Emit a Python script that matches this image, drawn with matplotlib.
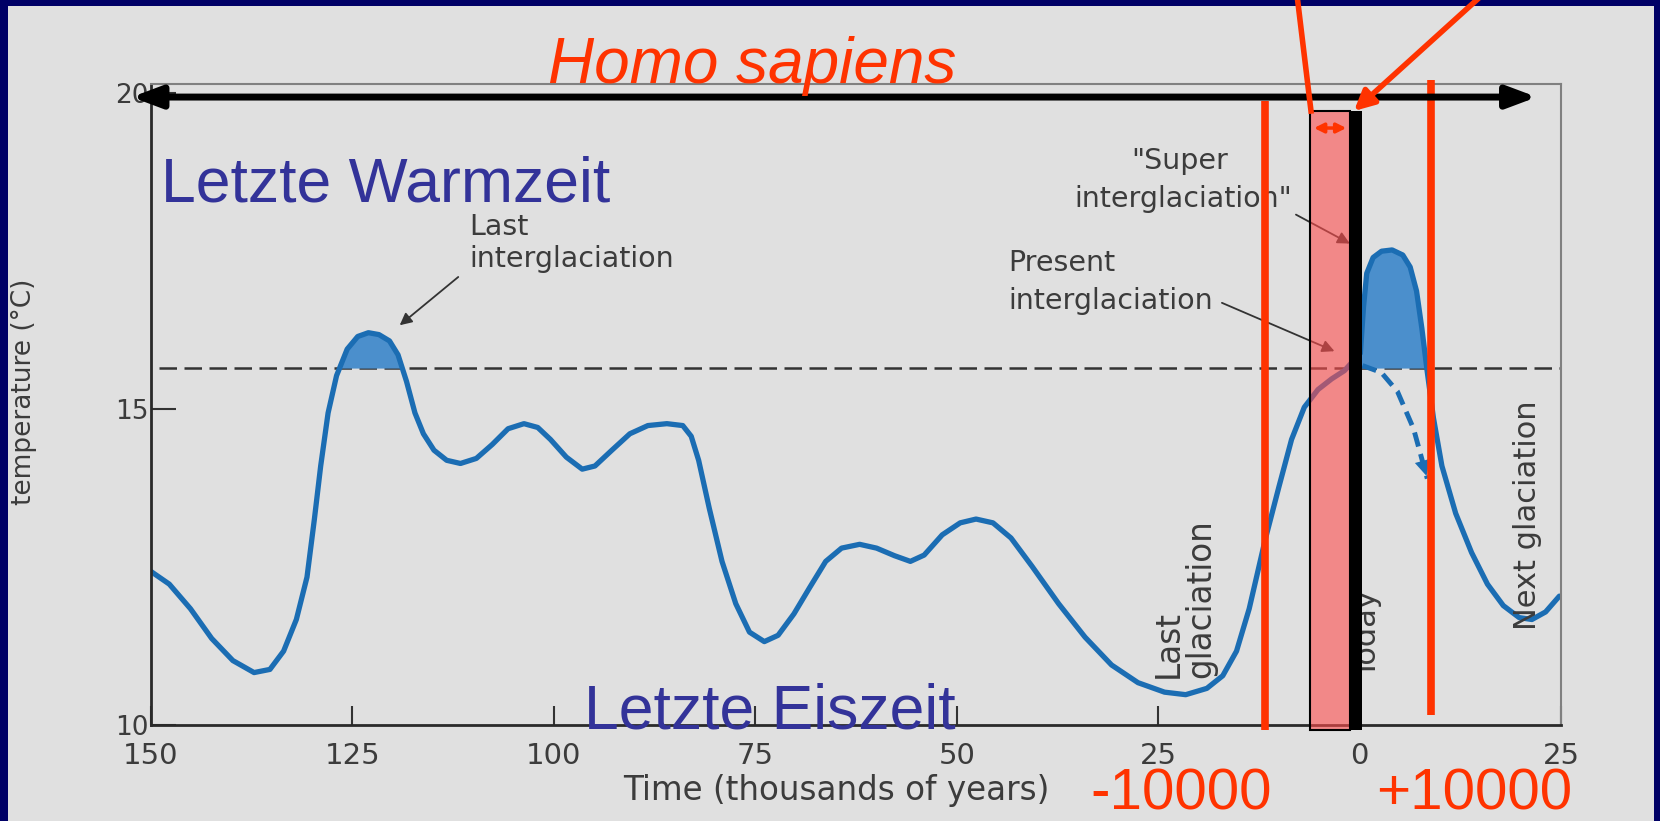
import numpy as np
import matplotlib
matplotlib.use('Agg')
import matplotlib.pyplot as plt
from matplotlib.patches import Rectangle, FancyArrowPatch
from matplotlib.lines import Line2D
from matplotlib.colors import LinearSegmentedColormap

# temperature curve (thousands of years, negative = past), deg C
past_years = [-150.0, -147.73, -145.10, -142.47, -139.84, -137.21, -135.24, -133.54, -131.96, -130.64,
              -129.72, -128.94, -128.02, -126.97, -125.65, -124.34, -123.02, -121.71, -120.40, -119.34,
              -118.29, -117.24, -116.19, -114.88, -113.30, -111.59, -109.62, -107.65, -105.68, -103.71,
              -102.00, -100.42, -98.45, -96.48, -94.90, -92.80, -90.57, -88.33, -85.97, -84.00,
              -82.95, -82.03, -80.71, -79.13, -77.42, -75.72, -73.88, -72.17, -70.20, -68.23,
              -66.26, -64.29, -62.05, -59.95, -57.72, -55.75, -54.04, -51.80, -49.57, -47.60,
              -45.50, -43.26, -40.64, -37.35, -34.07, -30.78, -27.50, -24.21, -21.58, -18.95,
              -16.98, -15.27, -13.70, -11.72, -10.01, -8.44, -6.86, -5.16, -3.45, -1.87, 0.10]
past_temps = [12.43, 12.23, 11.84, 11.37, 11.02, 10.83, 10.88, 11.17, 11.67, 12.34,
              13.26, 14.10, 14.94, 15.53, 15.95, 16.15, 16.21, 16.18, 16.08, 15.86,
              15.44, 14.94, 14.61, 14.35, 14.19, 14.14, 14.22, 14.44, 14.69, 14.77,
              14.71, 14.52, 14.24, 14.05, 14.10, 14.35, 14.61, 14.74, 14.77, 14.74,
              14.57, 14.19, 13.43, 12.59, 11.92, 11.47, 11.32, 11.42, 11.76, 12.18,
              12.59, 12.80, 12.86, 12.80, 12.68, 12.59, 12.69, 13.01, 13.20, 13.26,
              13.20, 12.96, 12.51, 11.92, 11.39, 10.95, 10.67, 10.52, 10.48, 10.58,
              10.78, 11.17, 11.84, 12.93, 13.77, 14.52, 15.03, 15.31, 15.48, 15.61, 15.89]

# "super interglaciation" scenario
future_years = [0.10, 0.49, 0.89, 1.68, 2.73, 4.04, 5.36, 6.28, 7.07, 7.73, 8.38,
                9.17, 10.22, 11.93, 13.90, 15.87, 17.84, 19.81, 21.39, 23.09, 24.80]
future_temps = [15.89, 16.62, 17.15, 17.40, 17.50, 17.52, 17.44, 17.25, 16.87, 16.28, 15.61,
                14.86, 14.10, 13.35, 12.73, 12.23, 11.89, 11.70, 11.67, 11.79, 12.04]

# natural trend (dashed)
alt_years = [0.36, 2.7, 4.7, 6.7, 8.4]
alt_temps = [15.69, 15.58, 15.28, 14.69, 13.90]

mean_temp = 15.65
xticks = [-150, -125, -100, -75, -50, -25, 0, 25]
xticklabels = ['150', '125', '100', '75', '50', '25', '0', '25']
yticks = [10, 15, 20]

minus_10k = -11.7
plus_10k = 8.85
sapiens_box = (-6.2, -1.2)
today_bar = (-1.2, 0.3)

blue = '#1b6db3'
fill_blue = '#4b8fcc'
red = '#ff3300'
grey_txt = '#3c3c3c'
navy_txt = '#333399'
lab_size = 20.5

plt.rcParams['font.family'] = 'DejaVu Sans'

fig = plt.figure(figsize=(16.6, 8.21), dpi=100)
fig.patch.set_facecolor('#000066')


def px(x, y):
    return x / 1660, 1 - y / 821


# scanned page
bg = fig.add_axes([8 / 1660, 0, (1654 - 8) / 1660, (821 - 6) / 821])
bg.set_axis_off()
bg.add_patch(Rectangle((0, 0), 1, 1, color='#e0e0e0'))
edge = LinearSegmentedColormap.from_list('edge', ['#c4c1b6', '#d8d7d2', '#e0e0e0'])
bg.imshow(np.linspace(0, 1, 64)[None, :], extent=(0, 0.025, 0, 1), cmap=edge, aspect='auto')
bg.set_xlim(0, 1)
bg.set_ylim(0, 1)

ax = fig.add_axes([151 / 1660, (821 - 725) / 821, 1410 / 1660, 641.2 / 821])
ax.set_facecolor('none')
ax.set_xlim(-150, 25)
ax.set_ylim(10, 20.15)

# dashed mean line and shaded warm periods
ax.plot([-149, 25], [mean_temp, mean_temp], color='#333333', lw=1.8, ls=(0, (7, 3)), zorder=1)
py = np.array(past_years)
pt = np.array(past_temps)
ax.fill_between(py, pt, mean_temp, where=(pt > mean_temp) & (py < -100), interpolate=True,
                color=fill_blue, lw=0, zorder=1.5)
fy = np.array(future_years)
ft = np.array(future_temps)
ax.fill_between(fy, ft, mean_temp, where=ft > mean_temp, interpolate=True,
                color=fill_blue, lw=0, zorder=1.5)

ax.plot(past_years, past_temps, color=blue, lw=3.8, solid_joinstyle='round', solid_capstyle='round', zorder=2)
ax.plot(future_years, future_temps, color=blue, lw=3.8, solid_joinstyle='round', solid_capstyle='round', zorder=2)
ax.plot(alt_years, alt_temps, color=blue, lw=3.5, ls=(0, (3, 1.6)), zorder=2)
ax.annotate('', xy=(alt_years[-1], alt_temps[-1]), xytext=(alt_years[-2], alt_temps[-2]),
            arrowprops=dict(arrowstyle='-|>', color=blue, lw=0, mutation_scale=28), zorder=2)

# axes styling
for s in ['left', 'bottom']:
    ax.spines[s].set_color('#2a2a2a')
    ax.spines[s].set_linewidth(2)
for s in ['top', 'right']:
    ax.spines[s].set_color('#808080')
    ax.spines[s].set_linewidth(1.5)
ax.set_xticks(xticks)
ax.set_xticklabels(xticklabels)
ax.set_yticks(yticks)
ax.tick_params(axis='x', direction='in', length=14, width=1.5, color='#333333',
               labelsize=21, labelcolor=grey_txt, pad=12)
ax.tick_params(axis='y', direction='in', length=18, width=1.5, color='#333333',
               labelsize=19, labelcolor=grey_txt, pad=2)

# original figure labels
ax.text(-110.5, 17.76, 'Last', fontsize=lab_size, color=grey_txt)
ax.text(-110.5, 17.25, 'interglaciation', fontsize=lab_size, color=grey_txt)
ax.annotate('', xy=(-119.4, 16.3), xytext=(-111.6, 17.12),
            arrowprops=dict(arrowstyle='-|>', color='#333333', lw=1.3, mutation_scale=18), zorder=2.5)
ax.text(-28.3, 18.8, '"Super', fontsize=lab_size, color=grey_txt)
ax.text(-35.4, 18.2, 'interglaciation"', fontsize=lab_size, color=grey_txt)
ax.annotate('', xy=(-0.9, 17.6), xytext=(-8.2, 18.1),
            arrowprops=dict(arrowstyle='-|>', color='#333333', lw=1.3, mutation_scale=18), zorder=2.5)
ax.text(-43.6, 17.19, 'Present', fontsize=lab_size, color=grey_txt)
ax.text(-43.6, 16.59, 'interglaciation', fontsize=lab_size, color=grey_txt)
ax.annotate('', xy=(-2.8, 15.9), xytext=(-17.4, 16.7),
            arrowprops=dict(arrowstyle='-|>', color='#333333', lw=1.3, mutation_scale=18), zorder=2.5)
ax.text(-21.7, 10.75, 'Last\nglaciation', fontsize=23.5, color=grey_txt, rotation=90,
        ha='center', va='bottom', multialignment='left', linespacing=1.0)
ax.text(1.0, 10.75, 'Today', fontsize=22, color=grey_txt, rotation=90, ha='center', va='bottom')
ax.text(20.8, 11.5, 'Next glaciation', fontsize=22, color=grey_txt, rotation=90, ha='center', va='bottom')

# slide overlay: Homo sapiens span, markers
ax.add_patch(Rectangle((sapiens_box[0], 9.92), sapiens_box[1] - sapiens_box[0], 19.72 - 9.92,
                       facecolor=(1, 0.3, 0.3, 0.6), edgecolor='black', lw=1.5, zorder=3, clip_on=False))
ax.add_patch(Rectangle((today_bar[0], 9.92), today_bar[1] - today_bar[0], 19.72 - 9.92,
                       facecolor='black', edgecolor='black', lw=0, zorder=4, clip_on=False))
ax.plot([minus_10k, minus_10k], [9.92, 19.88], color=red, lw=5.5, zorder=5, clip_on=False, solid_capstyle='butt')
ax.plot([plus_10k, plus_10k], [10.16, 20.21], color=red, lw=5.5, zorder=5, clip_on=False, solid_capstyle='butt')
ax.annotate('', xy=(-1.3, 19.45), xytext=(-6.0, 19.45),
            arrowprops=dict(arrowstyle='<|-|>', color=red, lw=2.5, mutation_scale=14), zorder=5)
ax.annotate('', xy=(22.0, 19.94), xytext=(-152.4, 19.94), annotation_clip=False,
            arrowprops=dict(arrowstyle='<|-|>, head_length=0.8, head_width=0.3', color='black',
                            lw=5, mutation_scale=22, shrinkA=0, shrinkB=0), zorder=6)

fig.add_artist(Line2D([px(1297, 0)[0], px(1311, 111)[0]], [px(1297, -5)[1], px(1311, 111)[1]],
                      color=red, lw=4, transform=fig.transFigure, zorder=7))
fig.add_artist(FancyArrowPatch(px(1480, -3), px(1354, 111), transform=fig.transFigure,
                               arrowstyle='-|>', mutation_scale=30, lw=4, color=red,
                               shrinkA=0, shrinkB=0, zorder=7))

fig.text(*px(752, 83), 'Homo sapiens', fontsize=46, color=red, style='italic',
         family='Liberation Sans', ha='center', va='baseline')
fig.text(*px(161, 202), 'Letzte Warmzeit', fontsize=45, color=navy_txt,
         family='Liberation Sans', ha='left', va='baseline', zorder=8)
fig.text(*px(584, 728), 'Letzte Eiszeit', fontsize=45, color=navy_txt,
         family='Liberation Sans', ha='left', va='baseline', zorder=8)
fig.text(*px(1090, 809), '-10000', fontsize=42, color=red,
         family='Liberation Sans', ha='left', va='baseline')
fig.text(*px(1376, 809), '+10000', fontsize=42, color=red,
         family='Liberation Sans', ha='left', va='baseline')
fig.text(*px(836, 800), 'Time (thousands of years)', fontsize=23.5, color=grey_txt,
         ha='center', va='baseline')
fig.text(*px(24, 392), 'temperature (°C)', fontsize=19, color=grey_txt, rotation=90,
         ha='center', va='center')

fig.savefig('out.png', dpi=100, facecolor=fig.get_facecolor())
